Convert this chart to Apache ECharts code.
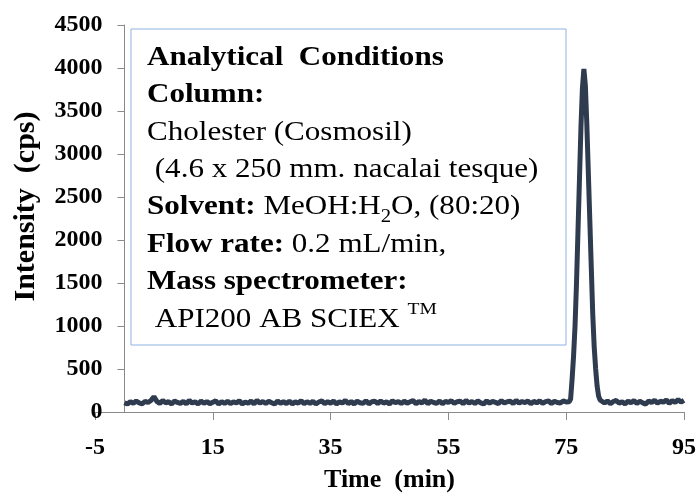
<!DOCTYPE html>
<html>
<head>
<meta charset="utf-8">
<script src="https://cdn.jsdelivr.net/npm/echarts@6/dist/echarts.min.js"></script>
<style>
  html, body { margin: 0; padding: 0; background: #fff; }
  #chart { width: 700px; height: 494px; }
</style>
</head>
<body>
<div id="chart"></div>
<script>
// retention time (min) and intensity (cps)
const timesA = [
  0, 0.5, 1, 1.5, 2, 2.5, 3, 3.5, 4, 4.5,
  5, 5.5, 6, 6.5, 7, 7.5, 8, 8.5, 9, 9.5,
  10, 10.5, 11, 11.5, 12, 12.5, 13, 13.5, 14, 14.5,
  15, 15.5, 16, 16.5, 17, 17.5, 18, 18.5, 19, 19.5,
  20, 20.5, 21, 21.5, 22, 22.5, 23, 23.5, 24, 24.5,
  25, 25.5, 26, 26.5, 27, 27.5, 28, 28.5, 29, 29.5,
  30, 30.5, 31, 31.5, 32, 32.5, 33, 33.5, 34, 34.5,
  35, 35.5, 36, 36.5, 37, 37.5, 38, 38.5, 39, 39.5,
  40, 40.5, 41, 41.5, 42, 42.5, 43, 43.5, 44, 44.5,
  45, 45.5, 46, 46.5, 47, 47.5, 48, 48.5, 49, 49.5,
  50, 50.5, 51, 51.5, 52, 52.5, 53, 53.5, 54, 54.5,
  55, 55.5, 56, 56.5, 57, 57.5, 58, 58.5, 59, 59.5,
  60, 60.5, 61, 61.5, 62, 62.5, 63, 63.5, 64, 64.5,
  65, 65.5, 66, 66.5, 67, 67.5, 68, 68.5, 69, 69.5,
  70, 70.5, 71, 71.5, 72, 72.5, 73, 73.5, 74, 74.5,
  75
];
const intensityA = [
  108, 92, 122, 100, 128, 106, 95, 124, 110, 134,
  178, 124, 100, 133, 106, 120, 94, 128, 111, 100,
  124, 95, 136, 104, 118, 93, 127, 102, 121, 97,
  114, 130, 91, 122, 100, 126, 96, 119, 105, 131,
  93, 117, 102, 128, 95, 134, 104, 121, 99, 125,
  108, 92, 129, 101, 122, 97, 126, 94, 118, 103,
  132, 96, 120, 100, 124, 93, 116, 129, 98, 121,
  102, 127, 95, 118, 104, 135, 97, 122, 93, 126,
  108, 100, 131, 95, 119, 124, 99, 128, 104, 117,
  94, 130, 107, 122, 98, 127, 103, 119, 133, 97,
  121, 105, 138, 96, 125, 110, 101, 129, 95, 123,
  111, 131, 100, 120, 126, 96, 134, 104, 122, 99,
  128, 107, 94, 130, 102, 123, 112, 98, 132, 105,
  120, 127, 97, 136, 103, 122, 109, 129, 95, 124,
  106, 131, 100, 121, 128, 99, 125, 110, 104, 129,
  116
];
const peakTimes = [
  75.25, 75.5, 75.75, 76, 76.25, 76.5, 76.75, 77, 77.25, 77.5, 77.75, 78,
  78.25, 78.5, 78.75, 79, 79.25, 79.5, 79.75, 80, 80.25, 80.5, 80.75, 81
];
const peakIntensity = [
  112, 120, 150, 380, 650, 1000, 1500, 2100, 2700, 3300, 3760, 3990,
  3800, 3350, 2800, 2250, 1700, 1150, 760, 500, 300, 185, 140, 122
];
const timesB = [
  81.5, 82, 82.5, 83, 83.5, 84, 84.5, 85, 85.5, 86, 86.5, 87, 87.5, 88,
  88.5, 89, 89.5, 90, 90.5, 91, 91.5, 92, 92.5, 93, 93.5, 94, 94.5, 95
];
const intensityB = [
  104, 129, 97, 122, 134, 101, 120, 94, 127, 108, 132, 99, 124, 106,
  92, 130, 110, 136, 103, 125, 114, 141, 100, 132, 111, 144, 115, 135
];

const xTicks = { min: -5, max: 95, step: 20 };
const yTicks = { min: 0, max: 4500, step: 500 };

const serif = 'Liberation Serif';
const lineColor = '#2f3b4f';
const axisColor = '#8a8a8a';

const times = timesA.concat(peakTimes, timesB);
const intensity = intensityA.concat(peakIntensity, intensityB);
const seriesData = times.map((t, i) => [t, intensity[i]]);

const infoText = [
  '{b|Analytical  Conditions}',
  '{b|Column:}',
  '{n|Cholester (Cosmosil)}',
  '{n| (4.6 x 250 mm. nacalai tesque)}',
  '{b|Solvent:}{n| MeOH:H}{sub|2}{n|O, (80:20)}',
  '{b|Flow rate:}{n| 0.2 mL/min,}',
  '{b|Mass spectrometer:}',
  '{n| API200 AB SCIEX }{sup|TM}'
].join('\n');

// y axis crosses the time axis at t = 0, i.e. 5 min right of the grid edge
const gridLeft = 95;
const gridRight = 16;
const pxPerMin = (700 - gridLeft - gridRight) / (xTicks.max - xTicks.min);
const yAxisShift = -(0 - xTicks.min) * pxPerMin;

const chart = echarts.init(document.getElementById('chart'));
const option = {
  animation: false,
  backgroundColor: '#fff',
  grid: { left: gridLeft, right: gridRight, top: 25, bottom: 82, containLabel: false, outerBoundsMode: 'none' },
  xAxis: {
    type: 'value',
    min: xTicks.min,
    max: xTicks.max,
    interval: xTicks.step,
    name: 'Time  (min)',
    nameLocation: 'middle',
    nameGap: 55,
    nameTextStyle: { fontFamily: serif, fontWeight: 'bold', fontSize: 26, color: '#000' },
    axisLine: { onZero: false, lineStyle: { color: axisColor, width: 1 } },
    axisTick: { show: true, length: 8, lineStyle: { color: axisColor } },
    axisLabel: { fontFamily: serif, fontWeight: 'bold', fontSize: 24, color: '#000', margin: 24 },
    splitLine: { show: false }
  },
  yAxis: {
    type: 'value',
    min: yTicks.min,
    max: yTicks.max,
    interval: yTicks.step,
    offset: yAxisShift,
    name: 'Intensity  (cps)',
    nameLocation: 'middle',
    nameGap: 83,
    nameTextStyle: {
      fontFamily: serif, fontWeight: 'bold', fontSize: 30, color: '#000',
      padding: [0, 0, 0, 24]
    },
    axisLine: { show: true, onZero: false, lineStyle: { color: axisColor, width: 1 } },
    axisTick: { show: true, length: 7, lineStyle: { color: axisColor } },
    axisLabel: {
      fontFamily: serif, fontWeight: 'bold', fontSize: 24, color: '#000', margin: 22,
      formatter: (v) => String(v)
    },
    splitLine: { show: false }
  },
  series: [
    {
      type: 'line',
      data: seriesData,
      showSymbol: false,
      symbol: 'none',
      lineStyle: { color: lineColor, width: 5 },
      z: 2
    }
  ],
  graphic: [
    {
      type: 'rect',
      z: 10,
      shape: { x: 131, y: 29, width: 435, height: 316 },
      style: { fill: '#fff', stroke: '#8db3e2', lineWidth: 1 }
    },
    {
      type: 'text',
      z: 11,
      x: 147,
      y: 39,
      scaleX: 1.15,
      style: {
        text: infoText,
        fill: '#000',
        rich: {
          b: { fontFamily: serif, fontWeight: 'bold', fontSize: 27, lineHeight: 37.4, fill: '#000' },
          n: { fontFamily: serif, fontWeight: 'normal', fontSize: 27, lineHeight: 37.4, fill: '#000' },
          sub: { fontFamily: serif, fontSize: 18, lineHeight: 24, verticalAlign: 'bottom', fill: '#000' },
          sup: { fontFamily: serif, fontSize: 17, lineHeight: 22, verticalAlign: 'top', fill: '#000' }
        }
      }
    }
  ]
};
chart.setOption(option);
</script>
</body>
</html>
